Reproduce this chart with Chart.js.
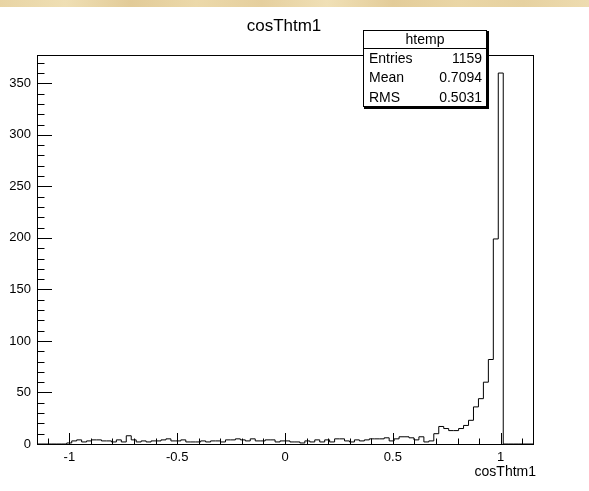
<!DOCTYPE html>
<html>
<head>
<meta charset="utf-8">
<script src="https://cdn.jsdelivr.net/npm/chart.js@4.4.1/dist/chart.umd.min.js"></script>
<style>
  html, body { margin: 0; padding: 0; background: #ffffff; }
  #wrap { position: relative; width: 589px; height: 491px; overflow: hidden; }
  canvas { display: block; }
</style>
</head>
<body>
<div id="wrap"><canvas id="c" width="589" height="491"></canvas></div>
<script>
// Histogram of cosThtm1 (100 bins from -1.15 to 1.15)
const histTitle = 'cosThtm1';
const histName = 'htemp';
const axisTitle = 'cosThtm1';
const xMin = -1.15;
const xMax = 1.15;
const nBins = 100;
const binCounts = [
  0, 0, 0, 0, 0, 0, 1, 3, 4, 2,
  3, 4, 4, 3, 3, 2, 4, 2, 8, 4,
  2, 3, 2, 3, 3, 4, 5, 3, 3, 4,
  2, 2, 2, 3, 2, 3, 3, 2, 4, 4,
  5, 4, 3, 5, 3, 3, 4, 4, 2, 3,
  3, 2, 2, 1, 3, 2, 4, 2, 4, 2,
  5, 5, 3, 2, 4, 3, 4, 5, 5, 5,
  6, 3, 5, 7, 7, 6, 4, 7, 2, 3,
  10, 17, 15, 13, 13, 15, 18, 23, 36, 44,
  60, 82, 199, 360, 0, 0, 0, 0, 0, 0
];
const yMax = 377.5;
const xTickValues = [-1, -0.5, 0, 0.5, 1];
const xTickLabels = ['-1', '-0.5', '0', '0.5', '1'];
const yTickValues = [0, 50, 100, 150, 200, 250, 300, 350];
const yTickLabels = ['0', '50', '100', '150', '200', '250', '300', '350'];
const statNames = ['Entries', 'Mean', 'RMS'];
const statValues = ['1159', '0.7094', '0.5031'];

const FONT = '"Liberation Sans", Arial, Helvetica, sans-serif';
const binWidth = (xMax - xMin) / nBins;

// step outline points: bin low edges, then the closing upper edge at zero
const points = binCounts.map((v, i) => ({ x: xMin + i * binWidth, y: v }));
points.push({ x: xMax, y: 0 });

const rootStyle = {
  id: 'rootStyle',
  beforeDraw(chart) {
    const ctx = chart.ctx;
    ctx.save();
    ctx.fillStyle = '#ffffff';
    ctx.fillRect(0, 0, chart.width, chart.height);
    // mottled beige band along the top edge
    const g = ctx.createLinearGradient(0, 0, chart.width, 0);
    const stops = ['#e8d4a4', '#efdfb4', '#e2cb98', '#ecd9aa', '#e5cf9e',
                   '#f0e0b6', '#e3cc99', '#ead6a6', '#e6d1a0', '#eedcb0'];
    stops.forEach((c, i) => g.addColorStop(i / (stops.length - 1), c));
    ctx.fillStyle = g;
    ctx.fillRect(0, 0, chart.width, 7);
    ctx.restore();
  },
  afterDatasetsDraw(chart) {
    const ctx = chart.ctx;
    const a = chart.chartArea;
    const xs = chart.scales.x, ys = chart.scales.y;
    ctx.save();
    ctx.strokeStyle = '#000';
    ctx.lineWidth = 1;
    // frame
    ctx.strokeRect(Math.round(a.left) + 0.5, Math.round(a.top) + 0.5,
                   Math.round(a.right - a.left), Math.round(a.bottom - a.top));
    // x ticks (inward)
    ctx.beginPath();
    for (let i = -11; i <= 11; i++) {
      const v = i / 10;
      const px = Math.round(xs.getPixelForValue(v)) + 0.5;
      const len = (i % 5 === 0) ? 11 : 5.5;
      ctx.moveTo(px, a.bottom);
      ctx.lineTo(px, a.bottom - len);
    }
    // y ticks (inward)
    for (let v = 0; v <= yMax; v += 10) {
      const py = Math.round(ys.getPixelForValue(v)) + 0.5;
      const len = (v % 50 === 0) ? 15 : 7.5;
      ctx.moveTo(a.left, py);
      ctx.lineTo(a.left + len, py);
    }
    ctx.stroke();

    // titles
    ctx.fillStyle = '#000';
    ctx.font = '17px ' + FONT;
    ctx.textAlign = 'center';
    ctx.textBaseline = 'middle';
    ctx.fillText(histTitle, 284, 26);
    ctx.font = '14px ' + FONT;
    ctx.textAlign = 'right';
    ctx.fillText(axisTitle, 536, 472);

    // statistics box
    const bx = 363, by = 30, bw = 124, bh = 77;
    ctx.fillStyle = '#000';
    ctx.fillRect(bx + 1, by + 1, bw + 1, bh + 1);
    ctx.fillStyle = '#fff';
    ctx.fillRect(bx, by, bw, bh);
    ctx.strokeRect(bx + 0.5, by + 0.5, bw - 1, bh - 1);
    ctx.beginPath();
    ctx.moveTo(bx, by + 18.5);
    ctx.lineTo(bx + bw, by + 18.5);
    ctx.stroke();
    ctx.fillStyle = '#000';
    ctx.font = '14px ' + FONT;
    ctx.textAlign = 'center';
    ctx.fillText(histName, bx + bw / 2, by + 10);
    for (let i = 0; i < statNames.length; i++) {
      const ty = by + 29 + i * 19.5;
      ctx.textAlign = 'left';
      ctx.fillText(statNames[i], bx + 6, ty);
      ctx.textAlign = 'right';
      ctx.fillText(statValues[i], bx + bw - 5, ty);
    }
    ctx.restore();
  }
};

new Chart(document.getElementById('c'), {
  type: 'line',
  data: {
    datasets: [{
      data: points,
      stepped: 'before',
      borderColor: '#000',
      borderWidth: 1,
      pointRadius: 0,
      fill: false,
      tension: 0
    }]
  },
  options: {
    responsive: false,
    animation: false,
    devicePixelRatio: 1,
    layout: { padding: { top: 55, right: 56, left: 0, bottom: 0 } },
    plugins: { legend: { display: false }, tooltip: { enabled: false }, title: { display: false } },
    scales: {
      x: {
        type: 'linear',
        min: xMin,
        max: xMax,
        grid: { display: false, drawTicks: false, tickLength: 0 },
        border: { display: false },
        afterBuildTicks(s) { s.ticks = xTickValues.map(v => ({ value: v })); },
        afterFit(s) { s.height = 47; },
        ticks: {
          padding: 6,
          color: '#000',
          font: { family: FONT, size: 13 },
          maxRotation: 0,
          autoSkip: false,
          callback: (v) => xTickLabels[xTickValues.indexOf(v)]
        }
      },
      y: {
        type: 'linear',
        min: 0,
        max: yMax,
        grid: { display: false, drawTicks: false, tickLength: 0 },
        border: { display: false },
        afterBuildTicks(s) { s.ticks = yTickValues.map(v => ({ value: v })); },
        afterFit(s) { s.width = 37; },
        ticks: {
          padding: 6,
          color: '#000',
          font: { family: FONT, size: 13 },
          callback: (v) => yTickLabels[yTickValues.indexOf(v)]
        }
      }
    }
  },
  plugins: [rootStyle]
});
</script>
</body>
</html>
